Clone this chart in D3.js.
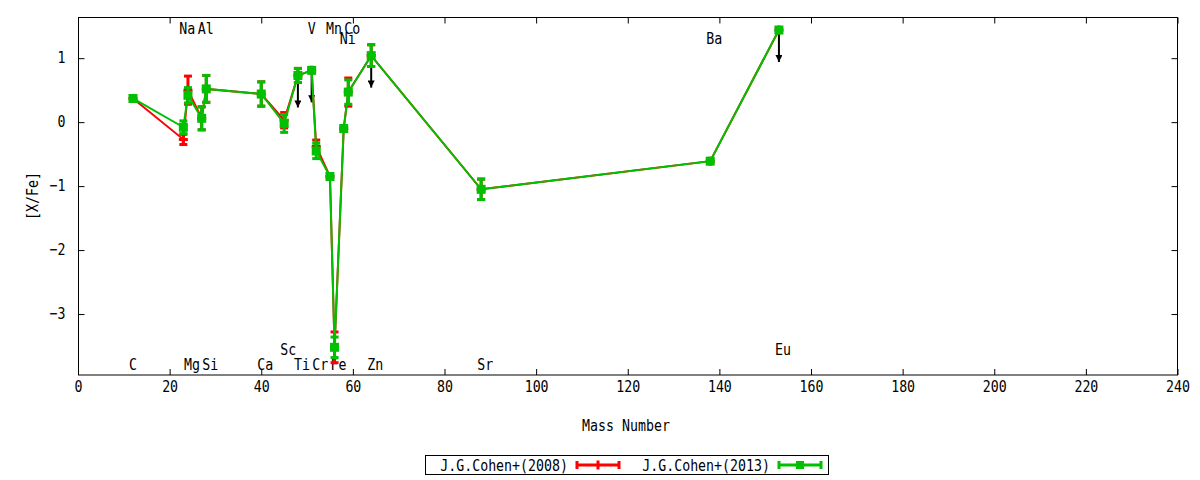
<!DOCTYPE html>
<html>
<head>
<meta charset="utf-8">
<script src="https://cdn.jsdelivr.net/npm/d3@7"></script>
<style>
body { margin: 0; background: #fff; }
svg text { font-family: "DejaVu Sans Mono", monospace; font-size: 16px; fill: #000; }
</style>
</head>
<body>
<div id="svg-container"></div>
<script>
// elements and their mass numbers (most abundant isotope)
const elements    = ["C", "Na", "Mg", "Al", "Si", "Ca", "Sc", "Ti", "V", "Cr", "Mn", "Fe", "Ni", "Co", "Zn", "Sr", "Ba", "Eu"];
const massNumbers = [12, 23, 24, 27, 28, 40, 45, 48, 51, 52, 55, 56, 58, 59, 64, 88, 138, 153];

// [X/Fe] (Fe is plotted as [Fe/H])
const cohen2008    = [0.37, -0.27, 0.50, 0.06, 0.52, 0.44, 0.03, 0.73, 0.81, -0.38, -0.85, -3.52, -0.10, 0.47, 1.04, -1.05, -0.61, 1.44];
const cohen2008Err = [0.00, 0.08, 0.22, 0.18, 0.21, 0.19, 0.12, 0.11, 0.00, 0.10, 0.00, 0.24, 0.00, 0.22, 0.17, 0.16, 0.00, 0.00];
const cohen2013    = [0.37, -0.08, 0.42, 0.06, 0.52, 0.44, -0.02, 0.73, 0.81, -0.45, -0.85, -3.52, -0.10, 0.47, 1.04, -1.05, -0.61, 1.44];
const cohen2013Err = [0.00, 0.10, 0.12, 0.18, 0.21, 0.19, 0.14, 0.11, 0.00, 0.12, 0.00, 0.16, 0.00, 0.19, 0.17, 0.16, 0.00, 0.00];

// upper limits get a downward arrow
const upperLimits = ["Ti", "V", "Zn", "Eu"];
const arrowLength = 0.5;

// height of each element label, in [X/Fe] units
const labelY = [-3.78, 1.47, -3.78, 1.47, -3.78, -3.78, -3.56, -3.78, 1.47, -3.78, 1.47, -3.78, 1.31, 1.47, -3.78, -3.78, 1.31, -3.56];

const xTicks = d3.range(0, 241, 20);
const yTicks = [-3, -2, -1, 0, 1];

const series = [
    { name: "J.G.Cohen+(2008)", values: cohen2008, errs: cohen2008Err, color: "#ff0000", marker: "plus" },
    { name: "J.G.Cohen+(2013)", values: cohen2013, errs: cohen2013Err, color: "#00c000", marker: "square" }
];

const width = 1200, height = 480;
const sx = 0.83; // squeeze the mono font horizontally

const x = d3.scaleLinear().domain([0, 240]).range([78, 1177.5]);
const y = d3.scaleLinear().domain([-3.953, 1.636]).range([375, 17.5]);
const left = 78.5, right = 1177.5;

const svg = d3.select("#svg-container")
                .append("svg")
                .attr("width", width)
                .attr("height", height);

// axes with inward ticks on all four sides
function styleAxis(g) {
    g.select(".domain").remove();
    g.selectAll("line").attr("stroke", "#000").attr("stroke-width", 1);
    g.selectAll("text").attr("fill", "#000");
    g.attr("font-family", null).attr("font-size", null);
}

svg.append("g")
    .attr("transform", `translate(0,${y.range()[0]})`)
    .call(d3.axisBottom(x).tickValues(xTicks).tickSizeInner(-6).tickSizeOuter(0).tickPadding(0))
    .call(styleAxis)
    .selectAll("text")
    .attr("y", 11)
    .attr("dy", "0.35em")
    .attr("transform", `scale(${sx},1)`);

svg.append("g")
    .attr("transform", `translate(0,${y.range()[1]})`)
    .call(d3.axisTop(x).tickValues(xTicks).tickSizeInner(-6).tickSizeOuter(0).tickFormat(""))
    .call(styleAxis);

svg.append("g")
    .attr("transform", `translate(${left},0)`)
    .call(d3.axisLeft(y).tickValues(yTicks).tickSizeInner(-6).tickSizeOuter(0).tickFormat(d3.format("d")))
    .call(styleAxis)
    .selectAll("text")
    .attr("x", -13 / sx)
    .attr("dy", "0.3em")
    .attr("transform", `scale(${sx},1)`);

svg.append("g")
    .attr("transform", `translate(${right},0)`)
    .call(d3.axisRight(y).tickValues(yTicks).tickSizeInner(-6).tickSizeOuter(0).tickFormat(""))
    .call(styleAxis);

// frame
svg.append("rect")
    .attr("x", left)
    .attr("y", y.range()[1])
    .attr("width", right - left)
    .attr("height", y.range()[0] - y.range()[1])
    .attr("fill", "none")
    .attr("stroke", "#000")
    .attr("stroke-width", 1);

// axis titles
svg.append("text")
    .attr("text-anchor", "middle")
    .attr("dy", "0.35em")
    .attr("transform", `translate(${(left + right) / 2 - 2},425) scale(${sx},1)`)
    .text("Mass Number");

svg.append("text")
    .attr("text-anchor", "middle")
    .attr("dy", "0.35em")
    .attr("transform", `translate(32,196) rotate(-90) scale(${sx},1)`)
    .text("[X/Fe]");

// element labels, left aligned at the mass number
svg.append("g")
    .selectAll("text")
    .data(elements)
    .enter()
    .append("text")
    .attr("dy", "0.35em")
    .attr("transform", (d, i) => `translate(${x(massNumbers[i]) - 4},${y(labelY[i])}) scale(${sx},1)`)
    .text(d => d);

// upper limit arrows
svg.append("defs").append("marker")
    .attr("id", "head")
    .attr("viewBox", "0 0 10 10")
    .attr("refX", 10).attr("refY", 5)
    .attr("markerWidth", 4).attr("markerHeight", 3.5)
    .attr("markerUnits", "strokeWidth")
    .attr("orient", "auto")
    .append("path")
    .attr("d", "M0,0 L10,5 L0,10 Z")
    .attr("fill", "#000");

svg.append("g")
    .selectAll("line")
    .data(upperLimits)
    .enter()
    .append("line")
    .attr("x1", d => x(massNumbers[elements.indexOf(d)]))
    .attr("x2", d => x(massNumbers[elements.indexOf(d)]))
    .attr("y1", d => y(cohen2013[elements.indexOf(d)]))
    .attr("y2", d => y(cohen2013[elements.indexOf(d)] - arrowLength))
    .attr("stroke", "#000")
    .attr("stroke-width", 2)
    .attr("marker-end", "url(#head)");

// draw one dataset: line, error bars, points
function drawSeries(s) {
    const pts = elements.map((el, i) => ({ el: el, m: massNumbers[i], v: s.values[i], e: s.errs[i] }));
    const g = svg.append("g");

    g.append("path")
        .datum(pts)
        .attr("d", d3.line().x(d => x(d.m)).y(d => y(d.v)))
        .attr("fill", "none")
        .attr("stroke", s.color)
        .attr("stroke-width", 2);

    const bars = g.selectAll("g.bar")
                    .data(pts.filter(d => d.e > 0))
                    .enter()
                    .append("g")
                    .attr("stroke", s.color)
                    .attr("stroke-width", 3);
    bars.append("line")
        .attr("x1", d => x(d.m)).attr("x2", d => x(d.m))
        .attr("y1", d => y(d.v + d.e)).attr("y2", d => y(d.v - d.e));
    [1, -1].forEach(sign => {
        bars.append("line")
            .attr("x1", d => x(d.m) - 4).attr("x2", d => x(d.m) + 4)
            .attr("y1", d => y(d.v + sign * d.e)).attr("y2", d => y(d.v + sign * d.e));
    });

    if (s.marker === "square") {
        g.selectAll("rect.pt")
            .data(pts)
            .enter()
            .append("rect")
            .attr("x", d => x(d.m) - 4.5)
            .attr("y", d => y(d.v) - 4.5)
            .attr("width", 9).attr("height", 9)
            .attr("fill", s.color);
    } else {
        g.selectAll("path.pt")
            .data(pts)
            .enter()
            .append("path")
            .attr("d", d => `M${x(d.m) - 4.5},${y(d.v)}h9M${x(d.m)},${y(d.v) - 4.5}v9`)
            .attr("stroke", s.color)
            .attr("stroke-width", 3);
    }
}

series.forEach(drawSeries);

// legend
const legend = svg.append("g");
legend.append("rect")
    .attr("x", 425.5).attr("y", 455.5)
    .attr("width", 403).attr("height", 19)
    .attr("fill", "none")
    .attr("stroke", "#000");

const legendX = [568, 770];
series.forEach((s, i) => {
    const lx = legendX[i], ly = 465;
    legend.append("text")
        .attr("text-anchor", "end")
        .attr("dy", "0.35em")
        .attr("transform", `translate(${lx},${ly}) scale(${sx},1)`)
        .text(s.name);
    const x0 = lx + 9, x1 = lx + 51, xm = (x0 + x1) / 2;
    legend.append("path")
        .attr("d", `M${x0},${ly}H${x1}M${x0},${ly - 4}v8M${x1},${ly - 4}v8`)
        .attr("stroke", s.color)
        .attr("stroke-width", 3)
        .attr("fill", "none");
    if (s.marker === "square") {
        legend.append("rect")
            .attr("x", xm - 4).attr("y", ly - 4)
            .attr("width", 8).attr("height", 8)
            .attr("fill", s.color);
    } else {
        legend.append("path")
            .attr("d", `M${xm},${ly - 4.5}v9`)
            .attr("stroke", s.color)
            .attr("stroke-width", 3);
    }
});
</script>
</body>
</html>
